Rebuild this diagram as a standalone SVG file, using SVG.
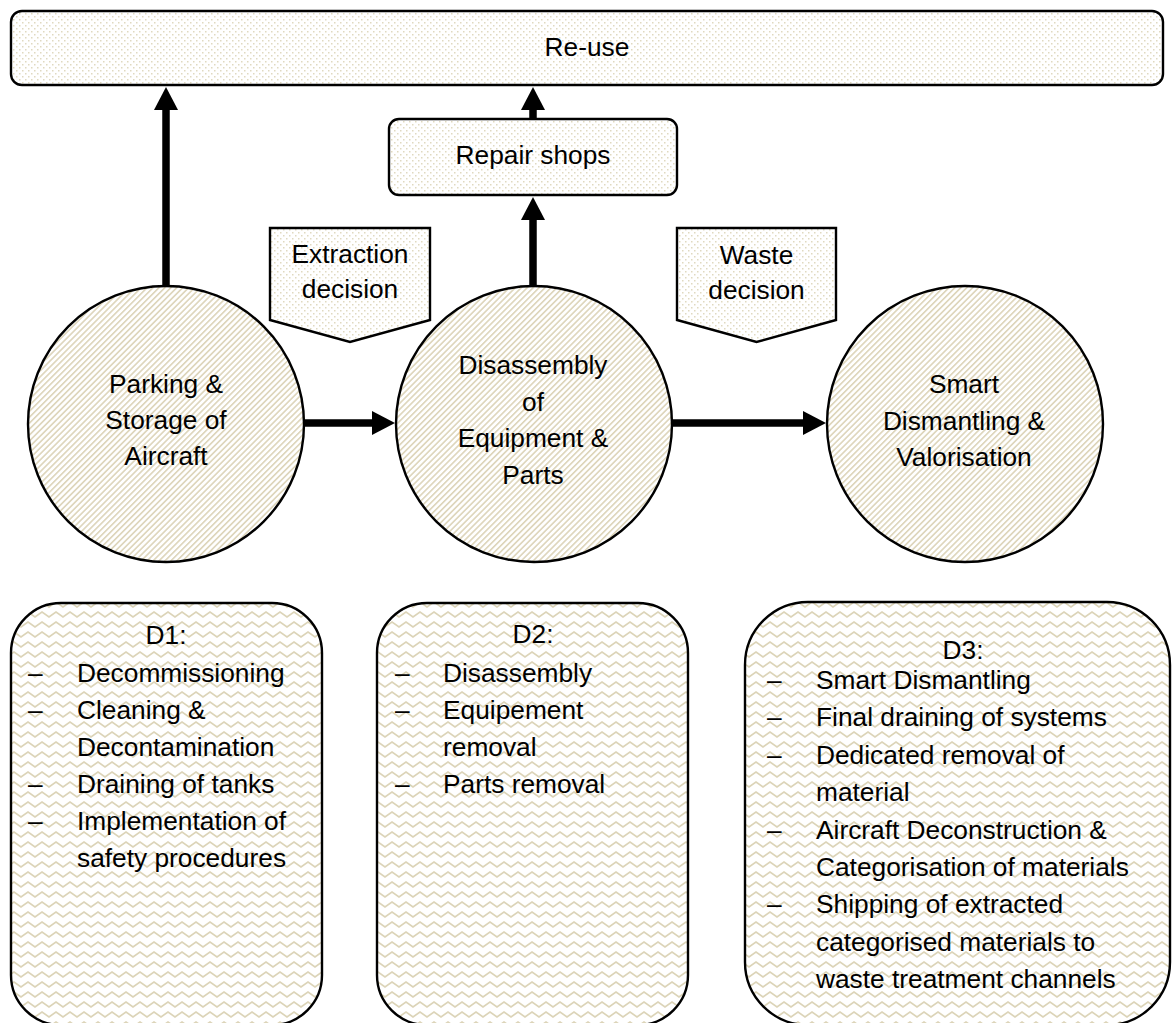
<svg xmlns="http://www.w3.org/2000/svg" width="1174" height="1023" viewBox="0 0 1174 1023">
<style>
text{font-family:"Liberation Sans",Arial,sans-serif;font-size:26.3px;fill:#000}
.c{text-anchor:middle}
.shape{stroke:#000;stroke-width:2.4}
.dots{fill:url(#dots)}
.stripes{fill:url(#stripes)}
.zig{fill:url(#zig)}
.arr{stroke:#000;stroke-width:7.5;fill:none}
</style>
<defs>
<pattern id="dots" width="6" height="6" patternUnits="userSpaceOnUse">
<rect width="6" height="6" fill="#fff"/>
<rect x="1" y="1" width="1.5" height="1.5" fill="#e0d9c0"/>
<rect x="4" y="4" width="1.5" height="1.5" fill="#e0d9c0"/>
</pattern>
<pattern id="stripes" width="4.2" height="4.2" patternUnits="userSpaceOnUse" patternTransform="rotate(45)">
<rect width="4.2" height="4.2" fill="#fff"/>
<rect x="0" y="0" width="1.6" height="4.2" fill="#ddd5ba"/>
</pattern>
<pattern id="zig" width="14" height="10" patternUnits="userSpaceOnUse">
<rect width="14" height="10" fill="#fff"/>
<path d="M-3.5,6 L0,2 L7,7 L14,2 L17.5,6" fill="none" stroke="#dcd4b8" stroke-width="1.7"/>
</pattern>
<marker id="ah" markerUnits="userSpaceOnUse" markerWidth="23" markerHeight="24" viewBox="0 0 23 24" refX="1" refY="12" orient="auto">
<path d="M0,0 L23,12 L0,24 z" fill="#000"/>
</marker>
</defs>
<rect width="1174" height="1023" fill="#fff"/>

<g id="reuse">
<rect class="shape dots" x="11" y="11" width="1152" height="74" rx="11"/>
<text class="c" x="587" y="56">Re-use</text>
</g>

<g id="repair">
<rect class="shape dots" x="389" y="119" width="288" height="76" rx="10"/>
<text class="c" x="533" y="164">Repair shops</text>
</g>

<g id="extraction">
<polygon class="shape dots" points="270,228 430,228 430,320 350,342 270,320"/>
<text class="c" x="350" y="263">Extraction</text>
<text class="c" x="350" y="298">decision</text>
</g>

<g id="waste">
<polygon class="shape dots" points="677,228 836,228 836,320 756.5,342 677,320"/>
<text class="c" x="756.5" y="264">Waste</text>
<text class="c" x="756.5" y="299">decision</text>
</g>

<g id="parking">
<circle class="shape stripes" cx="166" cy="424" r="138"/>
<text class="c" x="166" y="393">Parking &amp;</text>
<text class="c" x="166" y="429">Storage of</text>
<text class="c" x="166" y="465">Aircraft</text>
</g>

<g id="disassembly">
<circle class="shape stripes" cx="534" cy="424" r="138"/>
<text class="c" x="533" y="374">Disassembly</text>
<text class="c" x="533" y="411">of</text>
<text class="c" x="533" y="447">Equipment &amp;</text>
<text class="c" x="533" y="484">Parts</text>
</g>

<g id="smart">
<circle class="shape stripes" cx="965" cy="424" r="138"/>
<text class="c" x="964" y="393">Smart</text>
<text class="c" x="964" y="430">Dismantling &amp;</text>
<text class="c" x="964" y="466">Valorisation</text>
</g>

<g id="d1">
<rect class="shape zig" x="11" y="603" width="311" height="422" rx="50"/>
<text class="c" x="166" y="644">D1:</text>
<text x="28" y="682">–</text><text x="77" y="682">Decommissioning</text>
<text x="28" y="719">–</text><text x="77" y="719">Cleaning &amp;</text>
<text x="77" y="756">Decontamination</text>
<text x="28" y="793">–</text><text x="77" y="793">Draining of tanks</text>
<text x="28" y="830">–</text><text x="77" y="830">Implementation of</text>
<text x="77" y="867">safety procedures</text>
</g>

<g id="d2">
<rect class="shape zig" x="377" y="603" width="311" height="422" rx="50"/>
<text class="c" x="533" y="643">D2:</text>
<text x="395" y="682">–</text><text x="443" y="682">Disassembly</text>
<text x="395" y="719">–</text><text x="443" y="719">Equipement</text>
<text x="443" y="756">removal</text>
<text x="395" y="793">–</text><text x="443" y="793">Parts removal</text>
</g>

<g id="d3">
<rect class="shape zig" x="745" y="602" width="425" height="423" rx="63"/>
<text class="c" x="963" y="659">D3:</text>
<text x="767" y="689">–</text><text x="816" y="689">Smart Dismantling</text>
<text x="767" y="726.4">–</text><text x="816" y="726.4">Final draining of systems</text>
<text x="767" y="763.8">–</text><text x="816" y="763.8">Dedicated removal of</text>
<text x="816" y="801.2">material</text>
<text x="767" y="838.6">–</text><text x="816" y="838.6">Aircraft Deconstruction &amp;</text>
<text x="816" y="876">Categorisation of materials</text>
<text x="767" y="913.4">–</text><text x="816" y="913.4">Shipping of extracted</text>
<text x="816" y="950.8">categorised materials to</text>
<text x="816" y="988.2">waste treatment channels</text>
</g>

<g id="connectors">
<line class="arr" x1="166" y1="286" x2="166" y2="109" marker-end="url(#ah)"/>
<line class="arr" x1="533" y1="286" x2="533" y2="219" marker-end="url(#ah)"/>
<line class="arr" x1="533" y1="119" x2="533" y2="109" marker-end="url(#ah)"/>
<line class="arr" x1="304" y1="423" x2="373" y2="423" marker-end="url(#ah)"/>
<line class="arr" x1="672" y1="423" x2="804" y2="423" marker-end="url(#ah)"/>
</g>
</svg>
